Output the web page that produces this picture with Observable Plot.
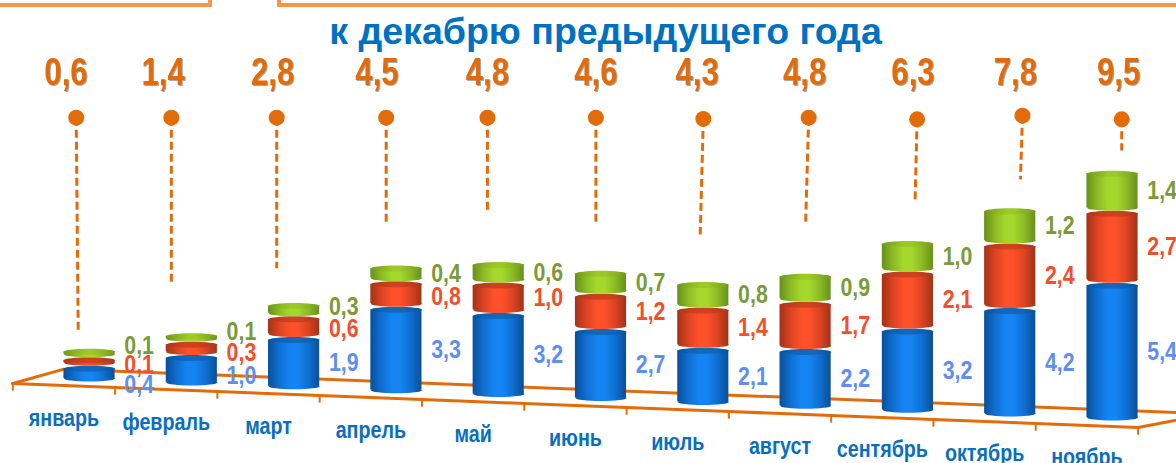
<!DOCTYPE html>
<html lang="ru"><head><meta charset="utf-8">
<script src="https://cdn.jsdelivr.net/npm/d3@7"></script>
<script src="https://cdn.jsdelivr.net/npm/@observablehq/plot@0.6"></script>
<style>
html,body{margin:0;padding:0;background:#fff;overflow:hidden;width:1176px;height:463px}
#wrap{position:relative;width:1176px;height:463px}
.box{position:absolute;top:-10px;height:9px;border:4px solid #f79646}
</style></head><body>
<div id="wrap">
<div class="box" style="left:-10px;width:214px"></div>
<div class="box" style="left:277px;width:950px"></div>
</div>
<script>
const months = ["январь","февраль","март","апрель","май","июнь","июль","август","сентябрь","октябрь","ноябрь"];
const blue  = [0.4,1.0,1.9,3.3,3.2,2.7,2.1,2.2,3.2,4.2,5.4];
const red   = [0.1,0.3,0.6,0.8,1.0,1.2,1.4,1.7,2.1,2.4,2.7];
const green = [0.1,0.1,0.3,0.4,0.6,0.7,0.8,0.9,1.0,1.2,1.4];
const totals = [0.6,1.4,2.8,4.5,4.8,4.6,4.3,4.8,6.3,7.8,9.5];
const title = "к декабрю предыдущего года";

// annotation layout, in axis units
const totalX   = [-0.23,0.72,1.79,2.81,3.89,4.95,5.94,6.99,8.05,9.05,10.06];
const leaderX  = [-0.13,0.80,1.83,2.90,3.89,4.95,6.00,7.03,8.09,9.12,10.09];
const leaderX2 = [-0.11,0.80,1.83,2.90,3.89,4.95,5.97,7.00,8.07,9.10,10.09];
const leaderY  = [10.69,10.69,10.69,10.69,10.69,10.69,10.64,10.69,10.62,10.77,10.62];
const leaderEnd= [1.87,3.84,4.52,6.39,6.79,6.39,5.9,6.3,7.28,8.16,9.34];
// vertical nudge (px) of labels that would otherwise collide on thin segments
const nudgeBlue  = [11,5,0,0,0,0,0,0,0,0,0];
const nudgeRed   = [3,4,2,3,0,0,0,0,0,0,0];
const nudgeGreen = [-7,-6,-3,0,0,0,0,0,0,0,0];

const TILT = 3.9, GAP = 6, RX = 25.6, RY = 3, NARROW = 0.82;
const fmt = v => v.toFixed(1).replace(".", ",");
const sans = "'Liberation Sans',Arial,sans-serif";

const layers = [
  {name:"blue",  values:blue,  nudge:nudgeBlue,  text:"#5f8ef2"},
  {name:"red",   values:red,   nudge:nudgeRed,   text:"#f0502c"},
  {name:"green", values:green, nudge:nudgeGreen, text:"#7b9a38"}
];
const ramps = {
  blue:  {body:["#0a4f9a","#0f6fd2","#1484f2","#1484f2","#0f6fd2","#0a4f9a"], cap:["#0c5299","#0f62b4","#1168bd","#1168bd","#0f62b4","#0c5299"]},
  red:   {body:["#a23217","#dc4422","#fe5029","#fe5029","#dc4422","#a23217"], cap:["#aa371b","#c23d1d","#d0421f","#d0421f","#c23d1d","#aa371b"]},
  green: {body:["#67901a","#8dbb25","#a4d82d","#a4d82d","#8dbb25","#67901a"], cap:["#749a1d","#88b423","#9ac928","#9ac928","#88b423","#749a1d"]}
};
const stops = [0,22,42,58,78,100];
const defs = () => {
  const d = d3.create("svg:defs");
  for (const [n, r] of Object.entries(ramps)) for (const part of ["body","cap"]) {
    const g = d.append("linearGradient").attr("id", n+part).attr("x1",0).attr("x2",1).attr("y1",0).attr("y2",0);
    r[part].forEach((c,i)=>g.append("stop").attr("offset", stops[i]+"%").attr("stop-color", c));
  }
  return d.node();
};
const disc = {draw(ctx, size){
  const r = Math.sqrt(size/Math.PI), ry = r*RY/RX, k = 0.5523;
  ctx.moveTo(-r,0);
  ctx.bezierCurveTo(-r,-ry*k,-r*k,-ry,0,-ry);
  ctx.bezierCurveTo(r*k,-ry,r,-ry*k,r,0);
  ctx.bezierCurveTo(r,ry*k,r*k,ry,0,ry);
  ctx.bezierCurveTo(-r*k,ry,-r,ry*k,-r,0);
  ctx.closePath();
}};

const ORANGE = "#e36c0a";
const edges = d3.range(12);
const frontY = k => -0.205 - k*4/24.4;
const front = edges.map(k => ({x:k-0.75, y:frontY(k)}));
const lineStyle = {x:"x", y:"y", stroke:ORANGE, strokeWidth:3};
const floorMarks = [
  Plot.line([{x:-0.75,y:-0.205},{x:-0.25,y:0.384},{x:10.95,y:-1.446}], lineStyle),
  Plot.line(front, lineStyle),
  Plot.line([{x:10.25,y:frontY(11)},{x:10.95,y:-1.446}], lineStyle),
  Plot.link(front, {x1:"x", x2:"x", y1:"y", y2:d=>d.y-0.295, stroke:ORANGE, strokeWidth:2})
];

const leaderRows = months.map((m,i)=>({x1:leaderX[i],x2:leaderX2[i],y1:leaderY[i],y2:leaderEnd[i]}));
const leaderMarks = [
  Plot.link(leaderRows,{x1:"x1",x2:"x2",y1:"y1",y2:"y2",stroke:ORANGE,strokeWidth:3,strokeDasharray:"8 4"}),
  Plot.dot(leaderRows,{x:"x1",y:"y1",r:8,fill:ORANGE,stroke:"none"})
];

const barMarks = [], labelMarks = [];
months.forEach((m,i)=>{
  let start = 0;
  layers.forEach((l,k)=>{
    const v = l.values[i];
    const row = {x:i, x1:i-0.25, x2:i+0.25, y1:start, y2:start+v, v};
    const dy = i*TILT - k*GAP;
    const body = `url(#${l.name}body)`, cap = `url(#${l.name}cap)`;
    barMarks.push(
      Plot.dot([row],{x:"x",y:"y1",dy,r:RX,symbol:disc,fill:body,stroke:"none"}),
      Plot.rect([row],{x1:"x1",x2:"x2",y1:"y1",y2:"y2",dy,fill:body}),
      Plot.dot([row],{x:"x",y:"y2",dy,r:RX,symbol:disc,fill:cap,stroke:"none"})
    );
    labelMarks.push(Plot.text([row],{
      x:d=>d.x+0.485, y:d=>(d.y1+d.y2)/2, dy:dy+l.nudge[i], text:d=>fmt(d.v),
      fill:l.text, fontSize:26, fontWeight:700, fontFamily:sans
    }));
    start += v;
  });
  labelMarks.push(Plot.text([m],{
    x:()=>i-0.25, y:()=>-1.64, dy:i*TILT, text:d=>d,
    fill:"#0a6ebd", fontSize:24, fontWeight:700, fontFamily:sans
  }));
});

const totalMarks = Plot.text(totals,{
  x:(d,i)=>totalX[i], y:()=>12.54, text:d=>fmt(d),
  fill:ORANGE, fontSize:38, fontWeight:700, fontFamily:sans
});

const chart = Plot.plot({
  width:1176, height:463,
  marginTop:0, marginRight:0, marginBottom:0, marginLeft:0,
  x:{type:"linear", domain:[0,10], range:[89,1112], axis:null},
  y:{type:"linear", domain:[0,10], range:[378,134], axis:null},
  style:{background:"white", overflow:"hidden"},
  marks:[
    defs,
    ...floorMarks,
    ...leaderMarks,
    ...barMarks,
    ...labelMarks,
    totalMarks,
    Plot.text([title],{frameAnchor:"top", dy:31, dx:17, text:d=>d, fill:"#0070c0",
      fontSize:37.5, fontWeight:700, fontFamily:sans, lineAnchor:"middle"})
  ]
});
document.getElementById("wrap").prepend(chart);
// The reference uses a condensed face: squeeze the real text horizontally.
chart.querySelectorAll("text").forEach(t=>{
  if (t.textContent === title) return;
  t.setAttribute("textLength", t.getComputedTextLength()*NARROW);
  t.setAttribute("lengthAdjust","spacingAndGlyphs");
  if (getComputedStyle(t).fontSize === "38px") t.style.filter = "drop-shadow(1.5px 1.5px 0.6px #a8a8a8)";
});
</script>
</body></html>
